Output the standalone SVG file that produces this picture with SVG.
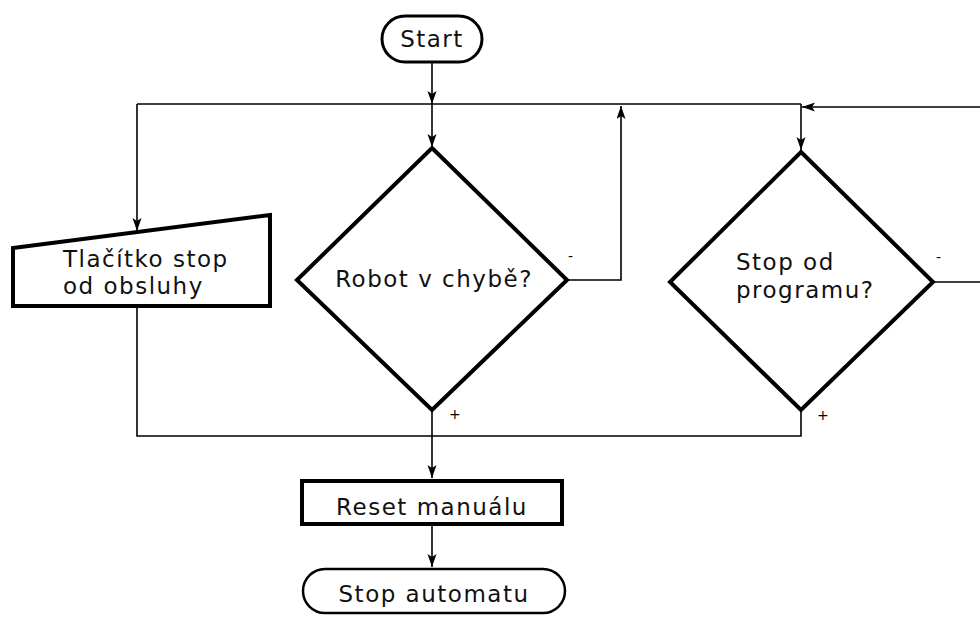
<svg xmlns="http://www.w3.org/2000/svg" width="980" height="617" viewBox="0 0 980 617">
  <defs>
    <marker id="arrow" markerUnits="userSpaceOnUse" markerWidth="14" markerHeight="10" refX="13" refY="4.5" orient="auto">
      <path d="M0,0 L13,4.5 L0,9 L3,4.5 z" fill="#000"/>
    </marker>
    <style>
      .shape { fill: #fff; stroke: #000; stroke-linejoin: miter; }
      .thick { stroke-width: 4; }
      .mid { stroke-width: 3; }
      .wire { fill: none; stroke: #000; stroke-width: 1.6; }
      .label { font-family: "DejaVu Sans", "Liberation Sans", sans-serif; font-size: 23px; letter-spacing: 1.5px; fill: #111; }
      .sign { font-family: "DejaVu Sans", "Liberation Sans", sans-serif; font-size: 14px; fill: #000; }
    </style>
  </defs>
  <rect width="980" height="617" fill="#fff"/>

  <!-- connectors -->
  <g id="connectors">
    <path class="wire" d="M432,62 L432,104" marker-end="url(#arrow)"/>
    <path class="wire" d="M137,104 L801,104"/>
    <path class="wire" d="M432,104 L432,147" marker-end="url(#arrow)"/>
    <path class="wire" d="M801,104 L801,150" marker-end="url(#arrow)"/>
    <path class="wire" d="M980,107 L802,107" marker-end="url(#arrow)"/>
    <path class="wire" d="M137,104 L137,231" marker-end="url(#arrow)"/>
    <path class="wire" d="M567,280 L621,280 L621,106" marker-end="url(#arrow)"/>
    <path class="wire" d="M933,282 L980,282"/>
    <path class="wire" d="M137,306 L137,436 L801,436 L801,410"/>
    <path class="wire" d="M432,410 L432,478" marker-end="url(#arrow)"/>
    <path class="wire" d="M432,525 L432,567" marker-end="url(#arrow)"/>
    <text class="sign" x="568" y="261">-</text>
    <text class="sign" x="936" y="262">-</text>
    <text class="sign" x="449" y="419">+</text>
    <text class="sign" x="817" y="420">+</text>
  </g>

  <g id="start">
    <rect class="shape mid" x="382" y="16" width="100" height="46" rx="23" ry="23"/>
    <text class="label" x="432" y="47" text-anchor="middle">Start</text>
  </g>

  <g id="button-input">
    <polygon class="shape thick" points="13,248 270,215 270,306 13,306"/>
    <text class="label" x="63" y="267">Tlačítko stop</text>
    <text class="label" x="63" y="294">od obsluhy</text>
  </g>

  <g id="robot-error">
    <polygon class="shape thick" points="432,148 567,280 432,410 297,280"/>
    <text class="label" x="434" y="287" text-anchor="middle">Robot v chybě?</text>
  </g>

  <g id="program-stop">
    <polygon class="shape thick" points="801,152 933,282 801,410 670,282"/>
    <text class="label" x="736" y="270">Stop od</text>
    <text class="label" x="736" y="298">programu?</text>
  </g>

  <g id="reset-manual">
    <rect class="shape thick" x="302" y="481" width="260" height="43"/>
    <text class="label" x="432" y="515" text-anchor="middle">Reset manuálu</text>
  </g>

  <g id="stop-automat">
    <rect class="shape" stroke-width="2.5" x="303" y="569" width="262" height="44" rx="22" ry="22"/>
    <text class="label" x="434" y="602" text-anchor="middle">Stop automatu</text>
  </g>
</svg>
